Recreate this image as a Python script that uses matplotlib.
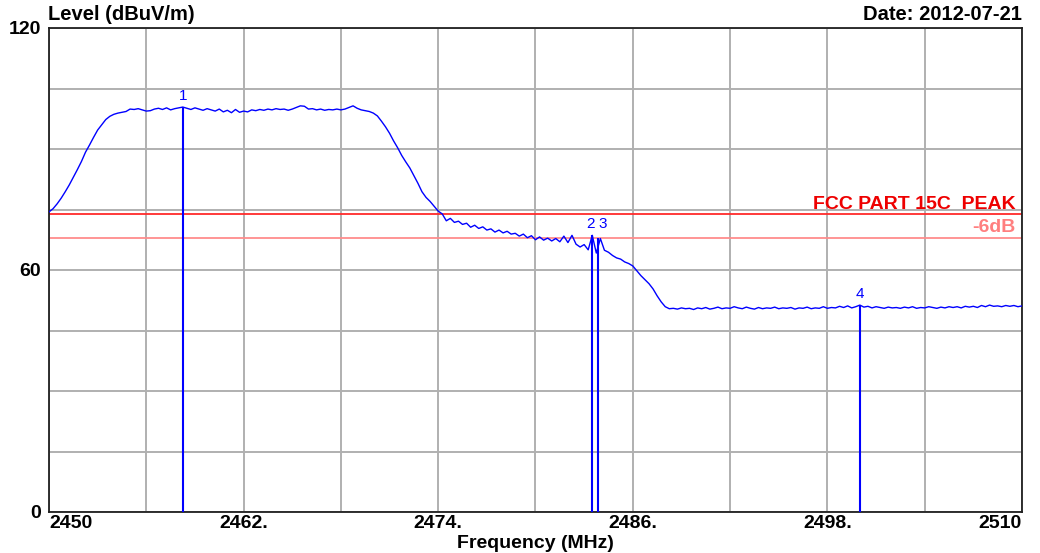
import numpy as np
import matplotlib
matplotlib.use("Agg")
import matplotlib.pyplot as plt

# sweep: 2450 - 2510 MHz, one point every 0.25 MHz
f_start = 2450.0
f_stop = 2510.0
levels = [
    74.4, 75.2, 76.4, 77.8, 79.4, 81.1, 83.0, 84.9, 86.9, 89.2, 91.0, 92.9,      # 2450
    94.7, 96.0, 97.3, 98.1, 98.6, 98.9, 99.1, 99.3, 99.9, 99.8, 100.0, 99.7,     # 2453
    99.4, 99.5, 99.9, 100.1, 99.8, 100.2, 99.7, 100.0, 100.2, 100.4, 100.1, 99.8,  # 2456
    100.2, 99.9, 99.6, 100.0, 99.7, 99.4, 99.9, 99.2, 99.6, 99.0, 99.8, 99.1,    # 2459
    99.4, 99.2, 99.7, 99.5, 99.8, 99.6, 99.9, 99.7, 100.0, 99.8, 99.9, 99.6,     # 2462
    99.9, 100.3, 100.7, 100.6, 99.9, 100.0, 99.7, 99.9, 99.6, 99.8, 99.7, 99.9,  # 2465
    99.7, 99.9, 100.3, 100.7, 100.1, 99.7, 99.5, 99.3, 98.9, 98.2, 96.9, 95.5,   # 2468
    93.9, 92.0, 90.3, 88.4, 86.8, 85.3, 83.4, 81.5, 79.4, 78.0, 77.0, 75.8,      # 2471
    74.6, 73.9, 72.2, 72.8, 71.8, 72.1, 71.3, 71.6, 70.6, 71.1, 70.3, 70.7,      # 2474
    69.9, 70.2, 69.4, 69.9, 69.2, 69.6, 68.9, 69.1, 68.4, 68.9, 68.0, 68.5,      # 2477
    67.5, 68.2, 67.4, 67.9, 67.2, 67.8, 67.0, 68.4, 66.8, 68.6, 66.4, 65.7,      # 2480
    66.3, 65.0, 68.6, 64.2, 67.8, 64.9, 64.4, 63.6, 63.0, 62.7, 62.0, 61.6,      # 2483
    61.0, 59.8, 58.6, 57.6, 56.6, 55.3, 53.6, 52.1, 50.9, 50.4, 50.5, 50.3,      # 2486
    50.6, 50.4, 50.5, 50.2, 50.6, 50.4, 50.7, 50.3, 50.5, 50.8, 50.4, 50.6,      # 2489
    50.5, 50.9, 50.6, 50.4, 50.8, 50.5, 50.3, 50.7, 50.4, 50.6, 50.5, 50.8,      # 2492
    50.4, 50.6, 50.5, 50.7, 50.3, 50.6, 50.5, 50.8, 50.4, 50.6, 50.5, 50.9,      # 2495
    50.5, 50.7, 50.6, 51.0, 50.7, 51.1, 50.6, 50.9, 51.3, 50.8, 51.0, 50.6,      # 2498
    50.9, 50.7, 50.5, 50.8, 50.6, 50.7, 50.5, 50.8, 50.6, 50.9, 50.5, 50.7,      # 2501
    50.6, 50.9, 50.7, 50.5, 50.8, 50.6, 50.9, 50.7, 50.9, 50.6, 51.0, 50.8,      # 2504
    51.0, 50.7, 51.2, 50.9, 51.3, 51.0, 51.1, 50.9, 51.2, 51.0, 51.2, 50.9,      # 2507
    51.1,                                                                        # 2510
]
freqs = np.linspace(f_start, f_stop, len(levels))

# markers
marker_ids = ["1", "2", "3", "4"]
marker_freqs = [2458.28, 2483.50, 2483.87, 2500.00]
marker_levels = [100.5, 68.6, 67.9, 51.3]

# limit lines
limit_peak = 74.0
limit_6db = 68.0

x_ticks = [2450, 2456, 2462, 2468, 2474, 2480, 2486, 2492, 2498, 2504, 2510]
x_labels = ["2450", "", "2462.", "", "2474.", "", "2486.", "", "2498.", "", "2510"]
y_ticks = [0, 15, 30, 45, 60, 75, 90, 105, 120]
y_labels = ["0", "", "", "", "60", "", "", "", "120"]

plt.rcParams['font.family'] = ['Liberation Sans', 'DejaVu Sans']

fig = plt.figure(figsize=(10.4, 5.53), dpi=100)
ax = fig.add_axes([49 / 1040, 1 - 512 / 553, 973 / 1040, 484 / 553])

ax.set_xlim(f_start, f_stop)
ax.set_ylim(0, 120)
ax.set_xticks(x_ticks)
ax.set_xticklabels(x_labels, fontsize=14, fontweight='bold')
ax.set_yticks(y_ticks)
ax.set_yticklabels(y_labels, fontsize=14, fontweight='bold')
ax.tick_params(length=0, pad=2)
ax.tick_params(axis='y', pad=6)
ax.grid(True, color='#b0b0b0', linewidth=1.4)
ax.set_axisbelow(True)
for s in ax.spines.values():
    s.set_linewidth(1.3)
    s.set_color('#202020')

tl = ax.get_xticklabels()
tl[0].set_ha('left')
tl[-1].set_ha('right')

# limit lines
ax.axhline(limit_peak, color='#ff2a2a', linewidth=1.3, zorder=2)
ax.axhline(limit_6db, color='#ff8c8c', linewidth=1.3, zorder=2)
ax.text(2509.6, limit_peak + 1.1, "FCC PART 15C  PEAK", color='#ee0000',
        fontsize=14, fontweight='bold', ha='right', va='baseline')
ax.text(2509.6, limit_6db + 1.5, "-6dB", color='#ff7f7f',
        fontsize=14, fontweight='bold', ha='right', va='baseline')

# trace
ax.plot(freqs, levels, color='#0000ff', linewidth=1.0, zorder=3)

# markers (2 and 3 sit next to each other, so push their labels apart)
n = len(marker_freqs)
for i, (mid, mf, ml) in enumerate(zip(marker_ids, marker_freqs, marker_levels)):
    ax.vlines(mf, 0, ml, color='#0000ff', linewidth=1.5, zorder=3)
    ha, dx, top = 'center', 0, ml
    if i + 1 < n and marker_freqs[i + 1] - mf < 1:
        ha, dx, top = 'right', 0.15, max(ml, marker_levels[i + 1])
    elif i > 0 and mf - marker_freqs[i - 1] < 1:
        ha, dx, top = 'left', 0, max(ml, marker_levels[i - 1])
    ax.text(mf + dx, top + 1.0, mid, color='#0000ff', fontsize=11,
            ha=ha, va='bottom', zorder=4)

fig.text(48 / 1040, 1 - 14 / 553, "Level (dBuV/m)", fontsize=14.5, fontweight='bold',
         ha='left', va='center')
fig.text(1022 / 1040, 1 - 14 / 553, "Date: 2012-07-21", fontsize=14.5, fontweight='bold',
         ha='right', va='center')
fig.text(535 / 1040, 1 - 543 / 553, "Frequency (MHz)", fontsize=14, fontweight='bold',
         ha='center', va='center')

fig.savefig("out.png", dpi=100)
